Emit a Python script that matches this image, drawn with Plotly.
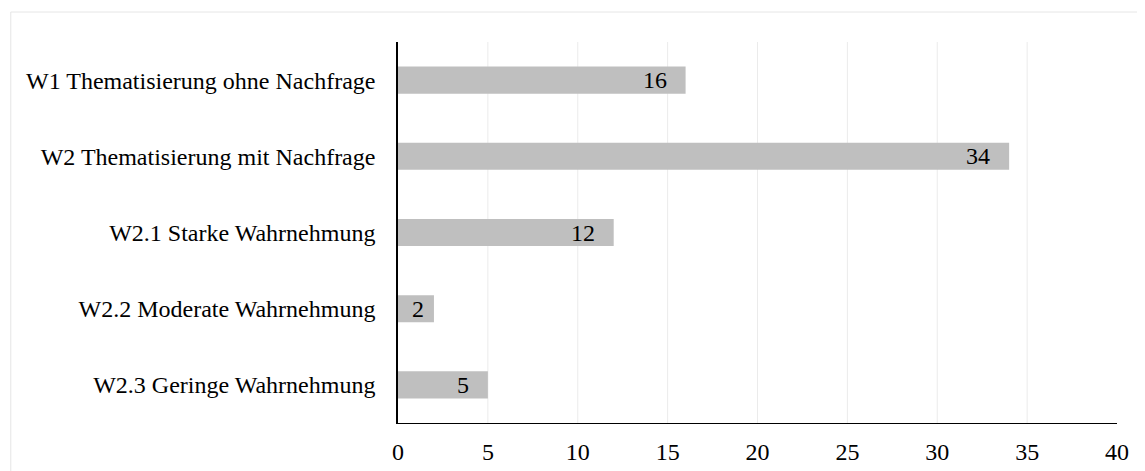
import plotly.graph_objects as go

categories = [
    "W1 Thematisierung ohne Nachfrage",
    "W2 Thematisierung mit Nachfrage",
    "W2.1 Starke Wahrnehmung",
    "W2.2 Moderate Wahrnehmung",
    "W2.3 Geringe Wahrnehmung",
]
values = [16, 34, 12, 2, 5]
x_ticks = [0, 5, 10, 15, 20, 25, 30, 35, 40]

FONT = "Liberation Serif, Times New Roman, serif"
FS = 24

L, R, T, B = 389.5, 36, 34, 56
W, H = 1145, 471
plot_w = W - L - R
plot_h = H - T - B

fig = go.Figure()
fig.add_trace(go.Bar(
    x=values, y=categories, orientation="h",
    marker=dict(color="#bfbfbf", line=dict(width=0)),
    hoverinfo="x+y",
))

px_per_unit = plot_w / (x_ticks[-1] - x_ticks[0])
for c, v in zip(categories, values):
    shift = -17 if v * px_per_unit > 60 else -8
    fig.add_annotation(x=v, y=c, text=str(v), xanchor="right", showarrow=False,
                       xshift=shift, font=dict(family=FONT, size=FS, color="black"))

shapes = [dict(type="line", xref="x", yref="paper", x0=t, x1=t, y0=0, y1=1,
               line=dict(color="#ebebeb", width=1), layer="below")
          for t in x_ticks[1:-1]]
# outer chart border (top/left visible)
shapes.append(dict(type="rect", xref="paper", yref="paper",
                   x0=-(L - 2) / plot_w, x1=(plot_w + R + 20) / plot_w,
                   y0=-(B + 20) / plot_h, y1=(plot_h + T - 4) / plot_h,
                   line=dict(color="#e6e6e6", width=1), fillcolor="rgba(0,0,0,0)",
                   layer="below"))

fig.update_layout(
    width=W, height=H,
    margin=dict(l=L, r=R, t=T, b=B),
    paper_bgcolor="white", plot_bgcolor="white",
    bargap=0.645,
    showlegend=False,
    font=dict(family=FONT, size=FS, color="black"),
    xaxis=dict(range=[x_ticks[0], x_ticks[-1]], tickvals=x_ticks,
               ticktext=[str(t) for t in x_ticks],
               tickfont=dict(family=FONT, size=FS, color="black"),
               showgrid=False, zeroline=False, showline=True, linecolor="black",
               linewidth=1, ticks="", ticklabelstandoff=7),
    yaxis=dict(categoryorder="array", categoryarray=categories, autorange="reversed",
               tickfont=dict(family=FONT, size=FS, color="black"),
               showgrid=False, zeroline=False, showline=True, linecolor="black",
               linewidth=1.5, ticks="", ticklabelstandoff=16),
    shapes=shapes,
)

fig.write_html("out.html")
